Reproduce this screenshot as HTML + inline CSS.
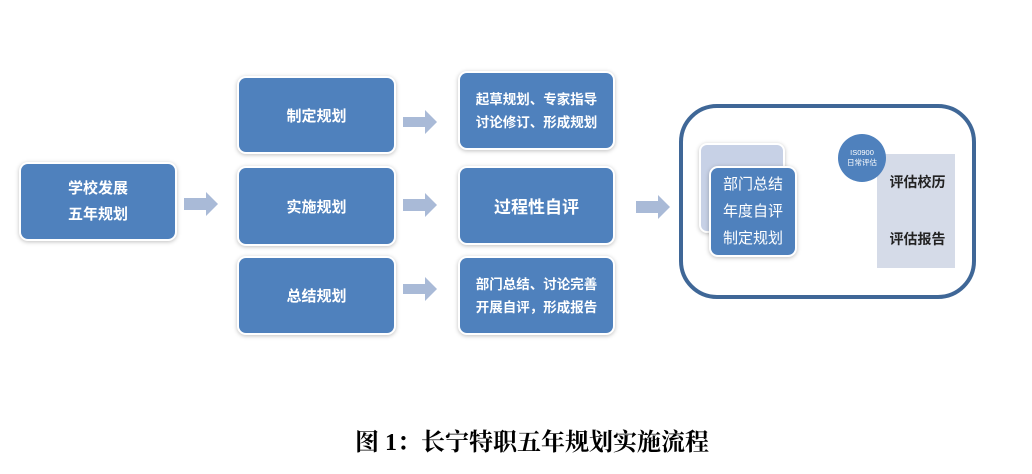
<!DOCTYPE html>
<html><head><meta charset="utf-8"><style>
body{margin:0;width:1032px;height:474px;background:#fff;position:relative;overflow:hidden;font-family:"Liberation Sans","Noto Sans CJK SC",sans-serif}
.b{position:absolute;background:#4f81bd;border-radius:7px;box-shadow:0 0 0 2px #fff,0 1px 4px 2px rgba(0,0,0,.25);color:#fff;font-weight:bold;display:flex;align-items:center;justify-content:center;text-align:center}
.ar{position:absolute}
</style></head><body>
<div class="b" style="left:21px;top:164px;width:154px;height:75px;font-size:15px;line-height:26px">学校发展<br>五年规划</div>
<div class="b" style="left:239px;top:78px;width:155px;height:74px;font-size:15px">制定规划</div>
<div class="b" style="left:239px;top:168px;width:155px;height:76px;font-size:15px">实施规划</div>
<div class="b" style="left:239px;top:258px;width:155px;height:75px;font-size:15px">总结规划</div>
<div class="b" style="left:460px;top:73px;width:153px;height:75px;font-size:13.5px;line-height:23px">起草规划、专家指导<br>讨论修订、形成规划</div>
<div class="b" style="left:460px;top:168px;width:153px;height:75px;font-size:17px">过程性自评</div>
<div class="b" style="left:460px;top:258px;width:153px;height:75px;font-size:13.5px;line-height:23px">部门总结、讨论完善<br>开展自评，形成报告</div>
<svg class="ar" width="1032" height="474" style="left:0;top:0" viewBox="0 0 1032 474">
<g fill="#a9bad7">
<polygon points="184,198 206,198 206,192 218,204 206,216 206,210 184,210"/>
<polygon points="403,117 425,117 425,110 437,122 425,134 425,127 403,127"/>
<polygon points="403,199 425,199 425,193 437,205 425,217 425,211 403,211"/>
<polygon points="403,284 425,284 425,277 437,289 425,301 425,294 403,294"/>
<polygon points="636,201 658,201 658,195 670,207 658,219 658,213 636,213"/>
</g>
<rect x="681" y="106" width="293" height="191" rx="36" fill="#fff" stroke="#3f6797" stroke-width="4"/>
<rect x="877" y="154" width="78" height="114" fill="#d5dbe8"/>
</svg>
<div class="b" style="left:701px;top:145px;width:82px;height:86px;background:#c7d1e6;border-radius:6px"></div>
<div class="b" style="left:711px;top:168px;width:84px;height:87px;font-weight:normal;font-size:15px;line-height:27px">部门总结<br>年度自评<br>制定规划</div>
<div style="position:absolute;left:838px;top:134px;width:48px;height:48px;border-radius:50%;background:#4f81bd;color:#fff;font-size:7.5px;line-height:10px;display:flex;align-items:center;justify-content:center;text-align:center">IS0900<br>日常评估</div>
<div style="position:absolute;left:880px;top:172px;width:75px;text-align:center;font-size:14px;font-weight:bold;color:#222">评估校历</div>
<div style="position:absolute;left:880px;top:229px;width:75px;text-align:center;font-size:14px;font-weight:bold;color:#222">评估报告</div>
<div style="position:absolute;left:0;top:422px;width:1064px;text-align:center;font-family:'Liberation Serif','Noto Serif CJK SC',serif;font-weight:bold;font-size:24px;color:#000">图 1：长宁特职五年规划实施流程</div>
</body></html>
